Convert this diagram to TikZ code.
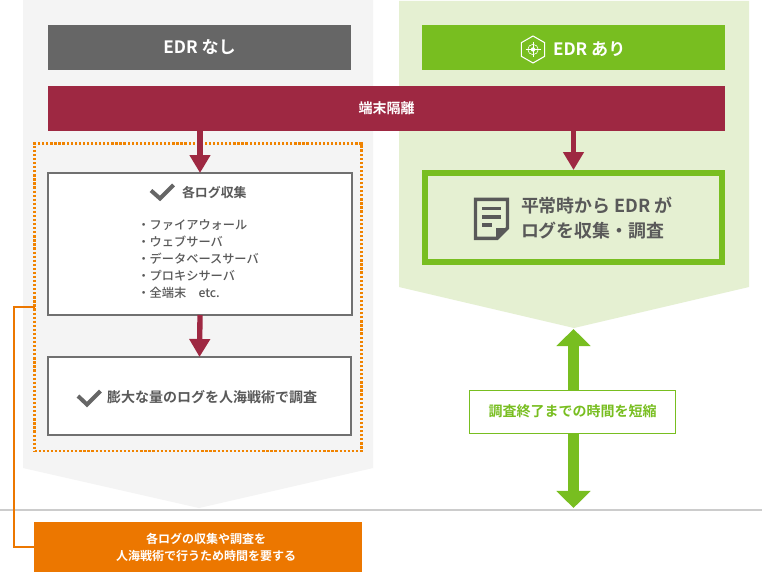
\documentclass[tikz,border=0pt]{standalone}
\usepackage{fontspec}
\setmainfont{Noto Sans CJK JP}[BoldFont={Noto Sans CJK JP Bold}]
\newfontfamily\medfont{Noto Sans CJK JP Medium}
\usetikzlibrary{arrows.meta}
\definecolor{panelgrey}{HTML}{F4F4F4}
\definecolor{panelgreen}{HTML}{E5F0D2}
\definecolor{headgrey}{HTML}{666666}
\definecolor{headgreen}{HTML}{78BE20}
\definecolor{maroon}{HTML}{9E2842}
\definecolor{dotorange}{HTML}{F08300}
\definecolor{boxorange}{HTML}{EC7700}
\definecolor{ruleg}{HTML}{CCCCCC}
\definecolor{txtg}{HTML}{595959}
\definecolor{boxedge}{HTML}{707070}
\tikzset{
  x=0.75pt,y=-0.75pt,
  every node/.style={outer sep=0pt},
  bar/.style={fill=#1,inner sep=0pt,anchor=north west,text=white,font=\bfseries\fontsize{12.8pt}{15pt}\selectfont},
  flowbox/.style={draw=boxedge,line width=1.6pt,fill=white,inner sep=0pt,anchor=north west},
  downarrow/.style={-{Triangle[length=13.5pt,width=15pt]},line width=4pt,draw=maroon},
  checkmark/.style={draw=headgrey,line width=3pt,line cap=butt,line join=miter},
}
\begin{document}
\begin{tikzpicture}
\useasboundingbox (0,0) rectangle (762,574);
\fill[white] (0,0) rectangle (762,574);
% panels
\fill[panelgrey] (23,0) -- (373,0) -- (373,468) -- (199,508) -- (23,468) -- cycle;
\fill[panelgreen] (399,1) -- (749,1) -- (749,287) -- (574,328) -- (399,287) -- cycle;
% rule
\draw[ruleg,line width=1.5pt] (0,510) -- (762,510);
% dotted frame
\node[draw=dotorange,line width=1.55pt,dash pattern=on 1.7pt off 1.35pt,inner sep=0pt,minimum width=327*0.75pt,minimum height=307.5*0.75pt,anchor=north west] (frame) at (34.5,143.5) {};
% headers
\node[bar=headgrey,minimum width=303*0.75pt,minimum height=45*0.75pt] (nohead) at (48,25) {EDR なし};
\node[bar=headgreen,minimum width=303*0.75pt,minimum height=45*0.75pt] (yeshead) at (422,25) {};
\node[text=white,font=\bfseries\fontsize{12.8pt}{15pt}\selectfont,anchor=west,inner sep=0pt] (yeslabel) at (553,49) {EDR あり};
% target icon
\coordinate (tc) at (533,49.5);
\draw[white,line width=0.8pt] (533,36) -- (544.7,42.7) -- (544.7,56.3) -- (533,63) -- (521.3,56.3) -- (521.3,42.7) -- cycle;
\draw[white,line width=0.45pt] (tc) circle[radius=5.2];
\fill[white] (tc) circle[radius=2.2];
\draw[white,line width=0.45pt] (525.5,49.5) -- (540.5,49.5) (533,42) -- (533,57);
% maroon bar
\node[bar=maroon,minimum width=677*0.75pt,minimum height=45*0.75pt,font=\bfseries\fontsize{10.5pt}{12pt}\selectfont] (isolate) at (48,86) {端末隔離};
% left boxes
\node[flowbox,minimum width=304*0.75pt,minimum height=142*0.75pt] (collect) at (48,173) {};
\node[flowbox,minimum width=303*0.75pt,minimum height=78*0.75pt] (survey) at (48,357) {};
% checkmarks
\draw[checkmark] (151,190.5) -- (160,198.5) -- (173.5,185);
\draw[checkmark] (78,396) -- (87,404.5) -- (100.5,391);
\node[text=txtg,anchor=west,inner sep=0pt,font=\bfseries\fontsize{9.7pt}{12pt}\selectfont] (collectlabel) at (182,192.5) {各ログ収集};
\node[text=txtg,anchor=north west,inner sep=0pt,align=left,font=\medfont\fontsize{9.15pt}{12.75pt}\selectfont] (loglist) at (137.5,220) {・ファイアウォール\\・ウェブサーバ\\・データベースサーバ\\・プロキシサーバ\\・全端末\quad etc.};
\node[text=txtg,anchor=west,inner sep=0pt,font=\bfseries\fontsize{10.5pt}{13pt}\selectfont] (surveylabel) at (107,397) {膨大な量のログを人海戦術で調査};
% green box
\node[draw=headgreen,line width=4.5pt,inner sep=0pt,minimum width=297*0.75pt,minimum height=88.5*0.75pt,anchor=north west] (edrbox) at (425,173) {};
\node[text=txtg,anchor=north west,inner sep=0pt,align=left,font=\bfseries\fontsize{13.45pt}{18.4pt}\selectfont] (edrlabel) at (521,197) {平常時から EDR が\\ログを収集・調査};
% doc icon
\draw[txtg,line width=2.6pt,line join=miter] (507.5,199.3) -- (475.5,199.3) -- (475.5,238.3) -- (497,238.3) -- (507.5,228) -- cycle;
\fill[txtg] (496,239.5) -- (496,228) -- (508.8,228) -- cycle;
\draw[txtg,line width=2.4pt] (482,208.5) -- (501,208.5) (482,217) -- (501,217) (482,225) -- (492,225);
% maroon arrows
\draw[downarrow] (isolate.south -| collect.north) -- (collect.north);
\draw[downarrow] (collect.south) -- (survey.north);
\coordinate (rt) at (573.5,170);
\draw[downarrow] (573.5,131) -- (rt);
% time arrow
\node[draw=headgreen,line width=0.9pt,fill=white,inner sep=0pt,minimum width=206*0.75pt,minimum height=43*0.75pt,text=headgreen,font=\bfseries\fontsize{10.5pt}{12pt}\selectfont,anchor=north west] (short) at (469.5,390.5) {};
\node[text=headgreen,inner sep=0pt,font=\bfseries\fontsize{10.5pt}{12pt}\selectfont] (shortlabel) at (572.5,411) {調査終了までの時間を短縮};
\coordinate (ttop) at (573.5,329);
\coordinate (tbot) at (573.5,508);
\draw[headgreen,-{Triangle[length=12.8pt,width=25pt]},line width=8.2pt] (short.north -| ttop) -- (ttop);
\draw[headgreen,-{Triangle[length=12.8pt,width=25pt]},line width=8.2pt] (short.south -| tbot) -- (tbot);
% orange note
\node[fill=boxorange,inner sep=0pt,minimum width=328*0.75pt,minimum height=50*0.75pt,anchor=north west] (note) at (34,522) {};
\node[text=white,inner sep=0pt,align=center,font=\bfseries\fontsize{9pt}{12.75pt}\selectfont] (notelabel) at (206,547.5) {各ログの収集や調査を\\人海戦術で行うため時間を要する};
\coordinate (elbowa) at (14,306.5);
\coordinate (elbowb) at (14,547);
\draw[boxorange,line width=1.5pt] (frame.west |- elbowa) -- (elbowa) -- (elbowb) -- (note.west);
\end{tikzpicture}
\end{document}
